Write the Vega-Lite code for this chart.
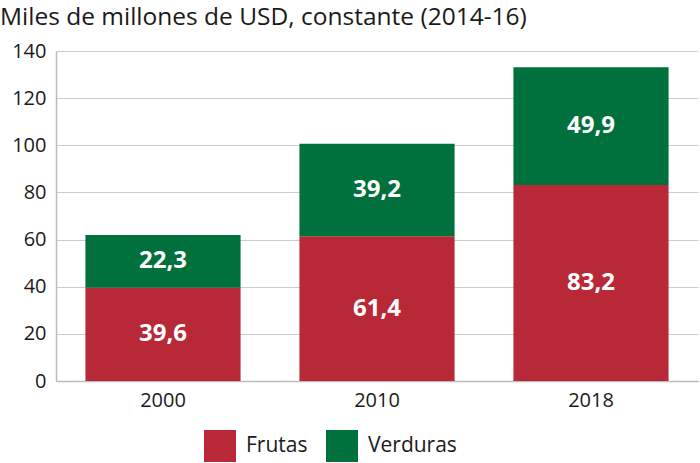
{
  "$schema": "https://vega.github.io/schema/vega-lite/v6.json",
  "width": 642,
  "height": 330,
  "autosize": "none",
  "padding": {"left": 56, "top": 51, "right": 2, "bottom": 82},
  "background": "white",
  "config": {
    "font": "Open Sans",
    "locale": {"number": {"decimal": ",", "thousands": ".", "grouping": [3], "currency": ["", " €"]}},
    "view": {"stroke": null}
  },
  "title": {
    "text": "Miles de millones de USD, constante (2014-16)",
    "anchor": "start",
    "frame": "group",
    "dx": -56,
    "offset": 11,
    "fontSize": 24.5,
    "fontWeight": "normal",
    "color": "#1a1a1a",
    "font": "Open Sans"
  },
  "data": {
    "values": [
      {"anio": "2000", "tipo": "Frutas", "valor": 39.6},
      {"anio": "2000", "tipo": "Verduras", "valor": 22.3},
      {"anio": "2010", "tipo": "Frutas", "valor": 61.4},
      {"anio": "2010", "tipo": "Verduras", "valor": 39.2},
      {"anio": "2018", "tipo": "Frutas", "valor": 83.2},
      {"anio": "2018", "tipo": "Verduras", "valor": 49.9}
    ]
  },
  "transform": [
    {"stack": "valor", "groupby": ["anio"], "sort": [{"field": "tipo", "order": "ascending"}], "as": ["v0", "v1"]},
    {"calculate": "(datum.v0 + datum.v1) / 2", "as": "vmid"}
  ],
  "encoding": {
    "x": {
      "field": "anio",
      "type": "nominal",
      "title": null,
      "scale": {"paddingInner": 0.275, "paddingOuter": 0.1375},
      "axis": {
        "labelAngle": 0,
        "labelFontSize": 20,
        "labelColor": "#1a1a1a",
        "labelPadding": 9,
        "ticks": false,
        "domainColor": "#bbbbbb",
        "domainWidth": 1.5
      }
    }
  },
  "layer": [
    {
      "mark": {"type": "bar"},
      "encoding": {
        "y": {
          "field": "v1",
          "type": "quantitative",
          "title": null,
          "scale": {"domain": [0, 140]},
          "axis": {
            "values": [0, 20, 40, 60, 80, 100, 120, 140],
            "labelFontSize": 20,
            "labelColor": "#1a1a1a",
            "labelPadding": 10,
            "ticks": false,
            "grid": true,
            "gridColor": "#cccccc",
            "gridWidth": 1,
            "domainColor": "#bbbbbb",
            "domainWidth": 1.5
          }
        },
        "y2": {"field": "v0"},
        "color": {
          "field": "tipo",
          "type": "nominal",
          "scale": {"domain": ["Frutas", "Verduras"], "range": ["#b82837", "#00703c"]},
          "legend": {
            "title": null,
            "orient": "none",
            "legendX": 148,
            "legendY": 379,
            "direction": "horizontal",
            "symbolType": "square",
            "symbolSize": 1024,
            "symbolStrokeWidth": 0,
            "symbolOpacity": 1,
            "labelFontSize": 21,
            "labelColor": "#1a1a1a",
            "labelOffset": 10,
            "columnPadding": 18
          }
        }
      }
    },
    {
      "mark": {"type": "text", "color": "white", "fontSize": 24, "fontWeight": "bold", "baseline": "middle", "align": "center"},
      "encoding": {
        "y": {"field": "vmid", "type": "quantitative"},
        "text": {"field": "valor", "type": "quantitative", "format": ".1f"}
      }
    }
  ]
}
